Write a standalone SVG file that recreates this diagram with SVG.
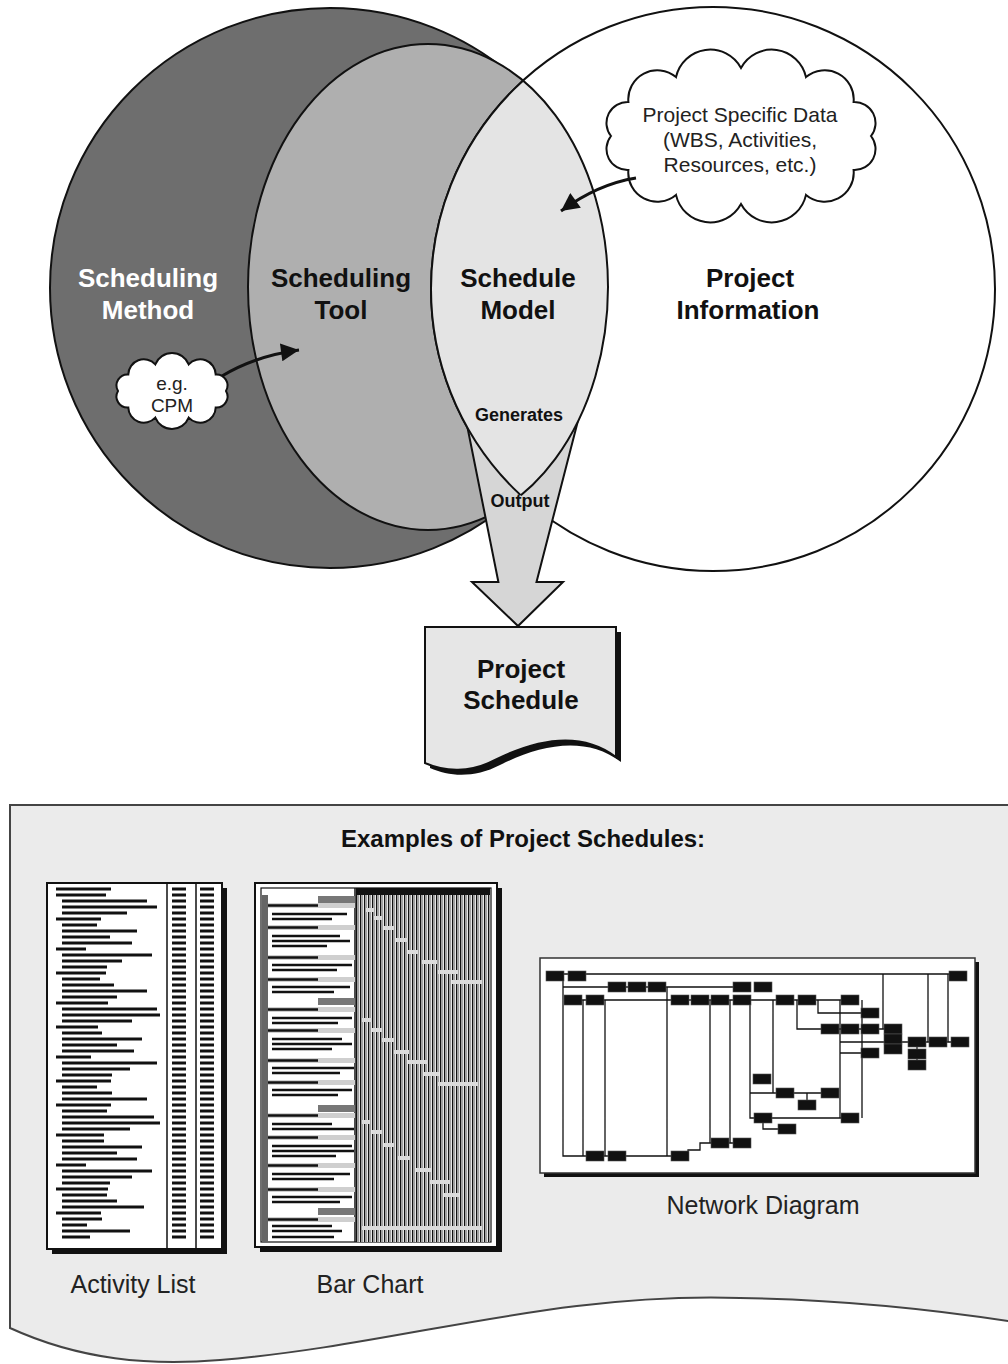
<svg xmlns="http://www.w3.org/2000/svg" width="1008" height="1364" viewBox="0 0 1008 1364">
<style>
.lbl{font-family:"Liberation Sans",Arial,sans-serif;font-weight:bold;text-anchor:middle}
.big{font-size:26px}
.sm{font-size:18px}
.reg{font-family:"Liberation Sans",Arial,sans-serif;text-anchor:middle;fill:#222}
.ol{stroke:#111;stroke-width:2}
</style>
<defs>
<marker id="ah" viewBox="0 0 10 10" refX="10" refY="5" markerUnits="userSpaceOnUse" markerWidth="24" markerHeight="18" orient="auto">
<path d="M0,0 L10,5 L0,10 Z" fill="#111"/>
</marker>
<clipPath id="clipCircle"><circle cx="713" cy="289" r="282"/></clipPath>
<clipPath id="clipEll"><ellipse cx="428" cy="287" rx="180" ry="243"/></clipPath>
<pattern id="vl" width="4" height="10" patternUnits="userSpaceOnUse">
<rect width="4" height="10" fill="#fff"/>
<rect x="0" width="1.4" height="10" fill="#111"/>
<rect x="2.2" width="1" height="10" fill="#8a8a8a"/>
</pattern>
</defs>
<rect width="1008" height="1364" fill="#fff"/>

<g id="scheduling-method">
<circle cx="330" cy="288" r="280" fill="#6e6e6e" class="ol"/>
</g>
<g id="scheduling-tool">
<ellipse cx="428" cy="287" rx="180" ry="243" fill="#afafaf" class="ol"/>
</g>
<g id="project-information">
<circle cx="713" cy="289" r="282" fill="#fff" class="ol"/>
</g>

<g id="output-arrow">
<polygon points="462,400 498.4,582 472,582 518,626 563,582 536.5,582 583.3,400" fill="#d6d6d6" stroke="#111" stroke-width="2" stroke-linejoin="miter"/>
</g>

<g id="schedule-model">
<g clip-path="url(#clipCircle)"><ellipse cx="428" cy="287" rx="180" ry="243" fill="#e4e4e4" class="ol"/></g>
<g clip-path="url(#clipEll)"><circle cx="713" cy="289" r="282" fill="none" class="ol"/></g>
</g>

<g id="labels">
<text class="lbl big" x="148" y="287" fill="#fff">Scheduling</text>
<text class="lbl big" x="148" y="319" fill="#fff">Method</text>
<text class="lbl big" x="341" y="287" fill="#111">Scheduling</text>
<text class="lbl big" x="341" y="319" fill="#111">Tool</text>
<text class="lbl big" x="518" y="287" fill="#111">Schedule</text>
<text class="lbl big" x="518" y="319" fill="#111">Model</text>
<text class="lbl big" x="750" y="287" fill="#111">Project</text>
<text class="lbl big" x="748" y="319" fill="#111">Information</text>
<text class="lbl sm" x="519" y="421" fill="#111">Generates</text>
<text class="lbl sm" x="520" y="507" fill="#111">Output</text>
</g>

<g id="cloud-data">
<path d="M871,136 A21,21 0 0 1 853.6,170 A29,29 0 0 1 806,194.9 A35,35 0 0 1 741,204 A35,35 0 0 1 676,194.9 A29,29 0 0 1 628.4,170 A21,21 0 0 1 611,136 A21,21 0 0 1 628.4,102 A29,29 0 0 1 676,77.1 A35,35 0 0 1 741,68 A35,35 0 0 1 806,77.1 A29,29 0 0 1 853.6,102 A21,21 0 0 1 871,136 Z" fill="#fff" class="ol"/>
<text class="reg" font-size="21" x="740" y="122">Project Specific Data</text>
<text class="reg" font-size="21" x="740" y="147">(WBS, Activities,</text>
<text class="reg" font-size="21" x="740" y="172">Resources, etc.)</text>
</g>

<g id="cloud-cpm">
<path d="M226,391 A11,11 0 0 1 215.7,407.5 A15.5,15.5 0 0 1 188.7,417.6 A18,18 0 0 1 155.3,417.6 A15.5,15.5 0 0 1 128.3,407.5 A11,11 0 0 1 118,391 A11,11 0 0 1 128.3,374.5 A15.5,15.5 0 0 1 155.3,364.4 A18,18 0 0 1 188.7,364.4 A15.5,15.5 0 0 1 215.7,374.5 A11,11 0 0 1 226,391 Z" fill="#fff" class="ol"/>
<text class="reg" font-size="19" x="172" y="390">e.g.</text>
<text class="reg" font-size="19" x="172" y="412">CPM</text>
</g>

<g id="connectors" fill="none" stroke="#111" stroke-width="3">
<path d="M636,178 Q598,184 561,211" marker-end="url(#ah)"/>
<path d="M222,376 Q255,356 299,350" marker-end="url(#ah)"/>
</g>

<g id="project-schedule">
<path d="M430,632 H621 V762 C585,735 540,745 500,765 C475,778 450,777 430,768 Z" fill="#111"/>
<path d="M425,627 H616 V757 C580,730 535,740 495,760 C470,773 445,772 425,763 Z" fill="#e6e6e6" stroke="#111" stroke-width="2"/>
<text class="lbl big" x="521" y="678" fill="#111">Project</text>
<text class="lbl big" x="521" y="709" fill="#111">Schedule</text>
</g>

<g id="examples-panel">
<path d="M10,805 H1014 V1322 C950,1312 860,1300 740,1298 C550,1292 400,1345 220,1360 C150,1366 80,1360 10,1328 Z" fill="#ebebeb" stroke="#444" stroke-width="2"/>
<text class="lbl" font-size="24" x="523" y="847" fill="#111">Examples of Project Schedules:</text>
</g>

<g id="activity-list">
<rect x="52" y="888" width="175" height="366" fill="#111"/>
<rect x="47" y="883" width="175" height="366" fill="#fff" stroke="#111" stroke-width="2"/>
<path d="M167,883 V1249 M196,883 V1249" stroke="#111" stroke-width="1.5"/>
<path fill="none" stroke="#111" stroke-width="3" d="M56,889h55M56,895h50M62,901h85M62,907h95M62,913h65M56,919h45M62,925h35M62,931h75M62,937h48M62,943h70M56,949h30M62,955h90M62,961h60M62,967h45M56,973h50M62,979h38M62,985h52M62,991h85M62,997h55M56,1003h52M62,1009h95M62,1015h98M62,1021h70M56,1027h42M62,1033h40M62,1039h80M62,1045h55M62,1051h72M56,1057h35M62,1063h95M62,1069h68M62,1075h50M56,1081h55M62,1087h35M62,1093h50M62,1099h85M56,1105h55M62,1111h45M62,1117h92M62,1123h98M62,1129h68M56,1135h48M62,1141h42M62,1147h80M62,1153h55M62,1159h75M56,1165h30M62,1171h90M62,1177h70M62,1183h48M56,1189h52M62,1195h45M62,1201h55M62,1207h82M56,1213h45M62,1219h40M62,1225h25M62,1231h68M62,1237h28"/>
<path d="M179,887.5 V1240 M207,887.5 V1240" stroke="#111" stroke-width="14" stroke-dasharray="3 3"/>
<text class="reg" font-size="25" x="133" y="1293">Activity List</text>
</g>

<g id="bar-chart">
<rect x="260" y="888" width="242" height="364" fill="#111"/>
<rect x="255" y="883" width="242" height="364" fill="#fff" stroke="#111" stroke-width="2"/>
<rect x="261" y="888" width="230" height="354" fill="none" stroke="#111" stroke-width="1.2"/>
<rect x="262" y="895" width="6" height="347" fill="#666"/>
<rect x="356" y="888" width="134" height="7" fill="#111"/>
<rect x="356" y="895" width="134" height="347" fill="url(#vl)"/>
<path d="M355,888 V1242" stroke="#111" stroke-width="1.5"/>
<g fill="#777">
<rect x="318" y="896" width="37" height="7"/><rect x="318" y="998" width="37" height="7"/><rect x="318" y="1105" width="37" height="7"/><rect x="318" y="1208" width="37" height="7"/>
</g>
<g fill="#cfcfcf">
<rect x="268" y="903" width="87" height="5"/><rect x="268" y="925" width="87" height="5"/><rect x="268" y="955" width="87" height="5"/><rect x="268" y="977" width="87" height="5"/><rect x="268" y="1007" width="87" height="5"/><rect x="268" y="1028" width="87" height="5"/><rect x="268" y="1058" width="87" height="5"/><rect x="268" y="1080" width="87" height="5"/><rect x="268" y="1113" width="87" height="5"/><rect x="268" y="1135" width="87" height="5"/><rect x="268" y="1163" width="87" height="5"/><rect x="268" y="1187" width="87" height="5"/><rect x="268" y="1217" width="87" height="5"/>
</g>
<path fill="none" stroke="#111" stroke-width="2.5" d="M268,905.5h50M268,927.5h50M268,957.5h50M268,979.5h50M268,1009.5h50M268,1030.5h50M268,1060.5h50M268,1082.5h50M268,1115.5h50M268,1137.5h50M268,1165.5h50M268,1189.5h50M268,1219.5h50M272,914h75M272,919h60M272,936h68M272,941h78M272,946h55M272,965h80M272,970h65M272,987h78M272,992h62M272,1018h80M272,1023h66M272,1039h70M272,1044h80M272,1049h60M272,1068h82M272,1073h68M272,1090h80M272,1095h66M272,1124h60M272,1129h82M272,1146h80M272,1151h82M272,1156h64M272,1174h78M272,1179h62M272,1197h80M272,1202h68M272,1226h60M272,1231h70M272,1237h62"/>
<path fill="none" stroke="#dcdcdc" stroke-width="4" d="M366,910h8M374,918h8M384,928h10M396,940h12M408,952h10M422,962h15M438,972h20M452,982h30M362,1020h10M372,1030h10M382,1040h12M394,1052h15M408,1062h20M424,1074h15M438,1084h40M362,1122h8M372,1132h10M384,1145h10M398,1158h12M416,1170h15M430,1182h20M444,1195h15M362,1228h120"/>
<text class="reg" font-size="25" x="370" y="1293">Bar Chart</text>
</g>

<g id="network-diagram">
<rect x="544" y="962" width="435" height="215" fill="#111"/>
<rect x="540" y="958" width="435" height="215" fill="#fff" stroke="#333" stroke-width="1.5"/>
<path fill="none" stroke="#111" stroke-width="1.3" d="M555,974H958M563,976V1156H688M563,987H740M573,1000H850M583,1000V1156M605,1000V1156M667,987V1156M688,1156V1150H700V1143H742M710,1000V1143M730,1000V1143M750,1000V1118H850M750,1093H830M773,1000V1093M797,1000V1029H893M818,1000V1013H870M840,1000V1118M862,1000V1118M840,1042H960M840,1053H870M883,974V1029M928,974V1042M948,974V1042M807,1093V1105M763,1118V1129H787M893,1029V1049M917,1042V1065"/>
<g fill="#111" stroke="#555" stroke-width="0.6">
<rect x="546" y="971" width="18" height="10"/><rect x="568" y="971" width="18" height="10"/><rect x="949" y="971" width="18" height="10"/>
<rect x="608" y="982" width="18" height="10"/><rect x="628" y="982" width="18" height="10"/><rect x="648" y="982" width="18" height="10"/><rect x="733" y="982" width="18" height="10"/><rect x="754" y="982" width="18" height="10"/>
<rect x="564" y="995" width="18" height="10"/><rect x="586" y="995" width="18" height="10"/><rect x="671" y="995" width="18" height="10"/><rect x="691" y="995" width="18" height="10"/><rect x="711" y="995" width="18" height="10"/><rect x="733" y="995" width="18" height="10"/><rect x="776" y="995" width="18" height="10"/><rect x="798" y="995" width="18" height="10"/><rect x="841" y="995" width="18" height="10"/>
<rect x="861" y="1008" width="18" height="10"/>
<rect x="821" y="1024" width="18" height="10"/><rect x="841" y="1024" width="18" height="10"/><rect x="861" y="1024" width="18" height="10"/><rect x="884" y="1024" width="18" height="10"/>
<rect x="884" y="1034" width="18" height="10"/>
<rect x="908" y="1037" width="18" height="10"/><rect x="929" y="1037" width="18" height="10"/><rect x="951" y="1037" width="18" height="10"/>
<rect x="884" y="1044" width="18" height="10"/><rect x="861" y="1048" width="18" height="10"/><rect x="908" y="1049" width="18" height="10"/><rect x="908" y="1060" width="18" height="10"/>
<rect x="753" y="1074" width="18" height="10"/>
<rect x="776" y="1088" width="18" height="10"/><rect x="821" y="1088" width="18" height="10"/>
<rect x="798" y="1100" width="18" height="10"/>
<rect x="754" y="1113" width="18" height="10"/><rect x="841" y="1113" width="18" height="10"/>
<rect x="778" y="1124" width="18" height="10"/>
<rect x="711" y="1138" width="18" height="10"/><rect x="733" y="1138" width="18" height="10"/>
<rect x="586" y="1151" width="18" height="10"/><rect x="608" y="1151" width="18" height="10"/><rect x="671" y="1151" width="18" height="10"/>
</g>
<text class="reg" font-size="25" x="763" y="1214">Network Diagram</text>
</g>
</svg>
